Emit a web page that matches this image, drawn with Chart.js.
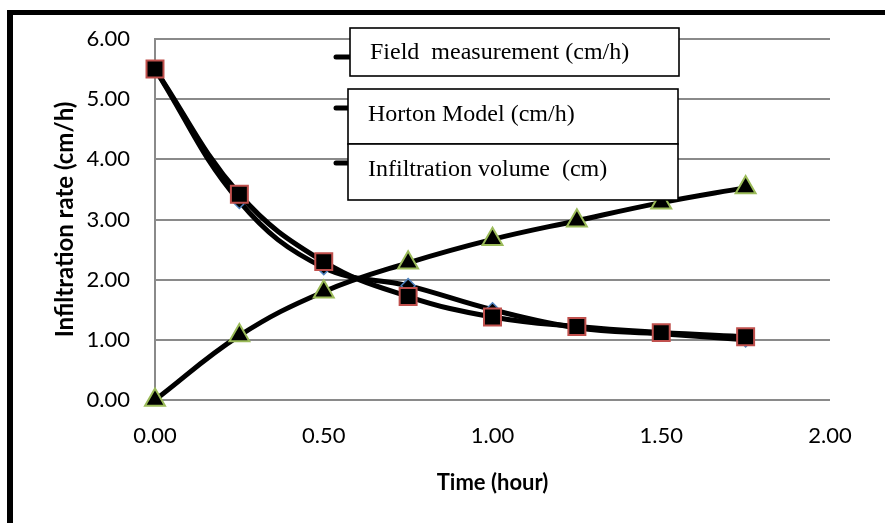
<!DOCTYPE html>
<html>
<head>
<meta charset="utf-8">
<script src="https://cdn.jsdelivr.net/npm/chart.js@4.4.2/dist/chart.umd.min.js"></script>
<style>
  html, body { margin: 0; padding: 0; background: #fff; overflow: hidden; }
  #wrap { position: relative; width: 885px; height: 523px; }
  #frame {
    position: absolute; left: 7px; top: 10px; width: 900px; height: 540px;
    border-left: 6px solid #000; border-top: 5px solid #000; pointer-events: none;
  }
</style>
</head>
<body>
<div id="wrap">
  <canvas id="chart" width="885" height="523"></canvas>
  <div id="frame"></div>
</div>
<script>
const timeHours = [0, 0.25, 0.5, 0.75, 1.0, 1.25, 1.5, 1.75];
const fieldRate = [5.5, 3.3, 2.2, 1.9, 1.5, 1.2, 1.1, 1.0];
const hortonRate = [5.5, 3.42, 2.3, 1.72, 1.38, 1.22, 1.12, 1.05];
const infVolume = [0, 1.07, 1.8, 2.28, 2.67, 2.98, 3.28, 3.53];
const seriesLabels = ['Field  measurement (cm/h)', 'Horton Model (cm/h)', 'Infiltration volume  (cm)'];
const xTitle = 'Time (hour)';
const yTitle = 'Infiltration rate (cm/h)';

const toPoints = (ys) => timeHours.map((x, i) => ({ x: x, y: ys[i] }));

// legend boxes as drawn in the sheet (overlapping boxes with a stub of line at the left)
const legendLayout = [
  { x: 350, y: 28, w: 329, h: 48, stubY: 57, textX: 370, textY: 53 },
  { x: 348, y: 89, w: 330, h: 55, stubY: 108, textX: 368, textY: 115 },
  { x: 348, y: 144, w: 330, h: 56, stubY: 163, textX: 368, textY: 170 }
];

const boxLegend = {
  id: 'boxLegend',
  afterDraw(chart) {
    const ctx = chart.ctx;
    ctx.save();
    legendLayout.forEach((b, i) => {
      ctx.strokeStyle = '#000';
      ctx.lineWidth = 5;
      ctx.lineCap = 'round';
      ctx.beginPath();
      ctx.moveTo(336, b.stubY);
      ctx.lineTo(b.x, b.stubY);
      ctx.stroke();
      ctx.fillStyle = '#fff';
      ctx.fillRect(b.x, b.y, b.w, b.h);
      ctx.lineWidth = 1.6;
      ctx.lineCap = 'butt';
      ctx.strokeRect(b.x, b.y, b.w, b.h);
      ctx.fillStyle = '#000';
      ctx.font = '24px "Liberation Serif"';
      ctx.textBaseline = 'middle';
      ctx.textAlign = 'left';
      ctx.fillText(seriesLabels[i], b.textX, b.textY);
    });
    ctx.restore();
  }
};

const gridGrey = '#8a8a8a';
const tickFont = { family: 'Lato', size: 22 };

new Chart(document.getElementById('chart'), {
  type: 'scatter',
  data: {
    datasets: [
      {
        label: seriesLabels[0],
        data: toPoints(fieldRate),
        showLine: true,
        borderColor: '#000',
        borderWidth: 5,
        tension: 0.4,
        pointStyle: 'rectRot',
        pointRadius: 7,
        pointBackgroundColor: '#000',
        pointBorderColor: '#4f81bd',
        pointBorderWidth: 1.5,
        clip: false,
        order: 3
      },
      {
        label: seriesLabels[1],
        data: toPoints(hortonRate),
        showLine: true,
        borderColor: '#000',
        borderWidth: 5,
        tension: 0.4,
        pointStyle: 'rect',
        pointRadius: 12,
        pointBackgroundColor: '#000',
        pointBorderColor: '#c0504d',
        pointBorderWidth: 2,
        clip: false,
        order: 2
      },
      {
        label: seriesLabels[2],
        data: toPoints(infVolume),
        showLine: true,
        borderColor: '#000',
        borderWidth: 5,
        tension: 0.4,
        pointStyle: 'triangle',
        pointRadius: 11.5,
        pointBackgroundColor: '#000',
        pointBorderColor: '#9bbb59',
        pointBorderWidth: 2,
        clip: false,
        order: 1
      }
    ]
  },
  options: {
    responsive: false,
    animation: false,
    layout: { padding: { left: 14, top: 39, right: 55, bottom: 23 } },
    plugins: {
      legend: { display: false },
      tooltip: { enabled: false }
    },
    scales: {
      x: {
        type: 'linear',
        min: 0,
        max: 2,
        afterFit: (scale) => {
          scale.height = 100;
          scale.paddingLeft = 0;
          scale.paddingRight = 0;
        },
        ticks: {
          stepSize: 0.5,
          color: '#000',
          font: tickFont,
          padding: 23,
          maxRotation: 0,
          callback: (v) => Number(v).toFixed(2)
        },
        grid: { display: false, drawTicks: false },
        border: { display: false },
        title: {
          display: true, text: xTitle, color: '#000',
          font: { family: 'Lato', size: 22, weight: 'bold' },
          padding: { top: 0, bottom: 4 }
        }
      },
      y: {
        min: 0,
        max: 6,
        afterFit: (scale) => {
          scale.width = 141;
          scale.paddingTop = 0;
          scale.paddingBottom = 0;
        },
        ticks: {
          stepSize: 1,
          color: '#000',
          font: tickFont,
          padding: 25,
          callback: (v) => Number(v).toFixed(2)
        },
        grid: { color: gridGrey, lineWidth: 2, drawTicks: false },
        border: { display: true, color: gridGrey, width: 2 },
        title: {
          display: true, text: yTitle, color: '#000',
          font: { family: 'Lato', size: 24, weight: 'bold' },
          padding: { top: 37, bottom: 0 }
        }
      }
    }
  },
  plugins: [boxLegend]
});
</script>
</body>
</html>
